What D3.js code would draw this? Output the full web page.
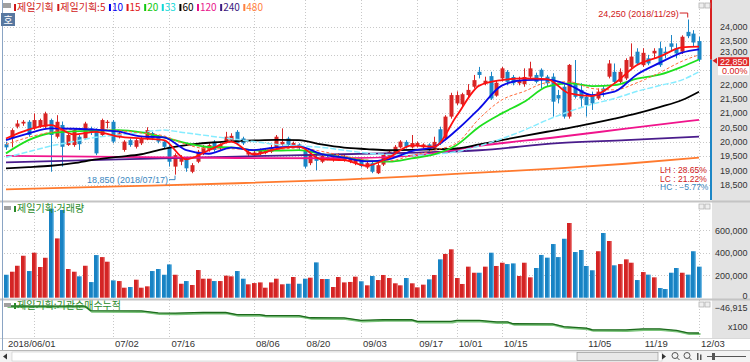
<!DOCTYPE html>
<html><head><meta charset="utf-8">
<script src="https://cdn.jsdelivr.net/npm/d3@7/dist/d3.min.js"></script>
<style>
body{margin:0;background:#fff;}
svg{display:block;}
text{font-family:"Liberation Sans",Arial,sans-serif;}
.kr{font-family:"Noto Sans CJK KR","Noto Sans",sans-serif;}
</style></head><body>
<svg id="chart" width="750" height="362"></svg>
<script>
// ---------------- DATA ----------------
const tradingDays = [
  [6,[1,4,5,7,8,11,12,14,15,18,19,20,21,22,25,26,27,28,29]],
  [7,[2,3,4,5,6,9,10,11,12,13,16,17,18,19,20,23,24,25,26,27,30,31]],
  [8,[1,2,3,6,7,8,9,10,13,14,16,17,20,21,22,23,24,27,28,29,30,31]],
  [9,[3,4,5,6,7,10,11,12,13,14,17,18,19,20,21,27,28]],
  [10,[1,2,4,5,8,10,11,12,15,16,17,18,19,22,23,24,25,26,29,30,31]],
  [11,[1,2,5,6,7,8,9,12,13,14,15,16,19,20,21,22,23,26,27,28,29,30]],
  [12,[3]]
];
const dates = tradingDays.flatMap(([m, ds]) => ds.map(d => `2018/${String(m).padStart(2,'0')}/${String(d).padStart(2,'0')}`));

const open = [19910,20110,20520,20630,20690,20460,20540,20520,20750,20170,20580,19880,19880,20170,20110,20460,20400,20230,20650,20690,
 20170,19710,20050,19820,19940,20110,20300,20170,20000,19820,19130,19300,19400,18950,19300,19600,19710,20000,19760,20000,
 20050,20340,20110,19550,19520,19580,19600,19650,19770,19900,20110,19850,19900,19710,19250,19470,19300,19470,19380,19400,
 19350,19300,19250,19350,19100,19250,18900,19200,19500,19600,19800,19990,19800,19850,19800,19900,19750,20430,20110,20870,
 21330,21300,21620,21910,22430,22030,22280,21600,22200,22430,22250,22030,22000,22260,22320,22500,22260,22260,21620,21910,
 20870,22030,21800,21560,21620,21500,21850,22260,22430,22080,22200,22600,23130,22660,22900,23070,23250,23130,23420,23250,
 23130,23820,23760,23500];
const high = [19996,20460,20750,20750,20750,20980,20800,21040,20800,20920,20700,20280,20460,20230,20690,20520,20460,20800,20750,20750,
 20340,20050,20110,20110,20170,20500,20340,20230,20050,19880,19590,19530,19470,19250,19710,19880,19940,20050,19940,20340,
 20290,20400,20170,19710,19700,19760,19760,19880,20230,20460,20170,20000,19940,19760,19590,19530,19560,19530,19500,19590,
 19530,19470,19420,19420,19300,19300,19250,19590,19710,19880,20050,20050,20230,20000,19940,19940,20170,20520,20920,21700,
 21750,21700,22000,22320,22600,22260,22430,22140,22600,22490,22320,22260,22550,22780,22400,22550,22320,22380,21800,22000,
 22700,22840,22030,21680,21740,21850,21960,22840,22720,22550,22900,23420,23250,23250,23020,23250,23480,23300,23710,23420,
 23700,24250,23880,23650];
const low = [19710,19800,20460,20550,20170,20400,20480,20460,18950,20110,19130,19850,19820,19710,20060,20230,19530,20170,20460,19940,
 20110,19650,19820,19760,19880,20050,20050,19940,19760,19130,18850,19180,18950,18900,19250,19530,19650,19650,19710,19940,
 19990,19880,19880,19500,19470,19530,19560,19600,19710,19850,19820,19800,19710,19070,19180,19000,19250,19350,19300,19350,
 19300,19250,19180,19100,19050,18900,18870,19150,19450,19550,19760,19760,19760,19800,19760,19500,19710,19880,20050,20800,
 21270,21210,21550,21850,22200,21960,21450,21560,22100,21960,21960,21960,21910,22200,22030,21850,21910,20870,21330,20800,
 20800,21500,21210,20870,21100,21450,21560,22200,22030,22030,22140,22550,22660,22600,22660,22900,22600,22900,23160,22900,
 23050,23600,23300,22780];
const close = [19800,20400,20630,20690,20230,20750,20750,20980,20230,20690,19820,20230,20400,19910,20630,20340,19590,20750,20690,20000,
 20290,20000,19880,20050,20100,20400,20110,20000,19820,19300,19530,19420,19070,19180,19650,19800,19880,19710,19900,20170,
 20200,19940,19940,19640,19620,19680,19700,19800,20170,19990,19880,19950,19780,19130,19520,19330,19500,19400,19450,19500,
 19480,19430,19380,19150,19250,18950,19180,19550,19650,19820,20000,19820,19950,19950,19900,19700,19990,19940,20870,21620,
 21620,21650,21800,22140,22320,22120,21500,22050,22550,22080,22030,22150,22250,22550,22080,22260,22030,21390,21500,20870,
 22670,21560,21500,21270,21330,21740,21740,22720,22080,22430,22840,22960,22720,23090,22720,23160,22660,23070,23300,23070,
 23650,23670,23450,22850];
const volume = [204,231,284,373,237,400,273,355,791,527,780,255,231,190,284,139,379,361,320,154,
 148,89,95,160,89,101,237,255,204,296,204,124,148,113,246,169,169,148,148,196,
 190,237,169,119,130,136,89,136,169,119,124,184,124,169,178,314,166,166,95,184,
 136,140,187,146,110,193,157,202,175,128,110,175,128,92,116,163,202,341,389,430,
 175,122,276,222,222,276,400,282,311,299,305,193,311,181,264,380,356,477,361,524,
 664,406,424,282,244,413,575,504,288,299,341,311,157,228,205,181,86,77,222,264,
 222,205,413,276].map(v => v * 1000);

const maDays = [0,4,8,12,16,20,24,28,32,36,40,44,48,52,56,60,64,68,72,76,80,84,88,92,96,100,104,108,112,116,120,123];
const ma5  = [20110,20420,20576,20250,20340,20170,20112,20054,19380,19700,19996,19555,19740,19822,19380,19357,19160,19450,19868,19822,20900,21950,22143,22201,22178,21679,21586,22027,22665,22956,23281,23304];
const ma10 = [20054,20286,20460,20448,20414,20344,20182,20147,19706,19578,19790,19706,19798,19822,19566,19439,19311,19392,19671,19822,20402,21150,21950,22143,22155,21969,21620,21737,22340,22740,23100,23213];
const ma15 = [19900,20150,20330,20420,20420,20380,20300,20200,19900,19750,19750,19720,19730,19780,19660,19500,19360,19330,19520,19700,19950,20800,21450,21750,22050,22080,21850,21800,22050,22400,22800,23020];
const ma20 = [19590,20050,20300,20357,20380,20402,20320,20147,19950,19810,19800,19700,19690,19706,19566,19450,19334,19300,19415,19555,19880,20518,20982,21388,21911,22027,21934,21969,22189,22329,22607,22860];
const ma33 = [19450,19650,19850,20000,20150,20230,20320,20400,20300,20200,20100,20000,19900,19850,19800,19700,19600,19550,19520,19560,19650,19850,20100,20400,20750,21050,21300,21500,21750,21950,22150,22430];
const ma60 = [19070,19110,19160,19250,19380,19470,19560,19750,19880,19960,20010,20040,20060,20050,19900,19790,19740,19700,19710,19730,19760,19900,20053,20200,20343,20480,20634,20800,20982,21200,21447,21737];
const longDays = [0,20,41,60,73,84,98,110,123];
const ma120 = [19500,19470,19430,19420,19520,19850,20160,20450,20760];
const ma240 = [19280,19380,19480,19560,19620,19700,19950,20050,20170];
const ma480 = [18340,18440,18550,18680,18800,18920,19070,19230,19440];

// institutional net buying, cumulative (x100 shares)
const instDays = [0,14,15,24,27,30,35,39,41,45,46,52,54,60,63,67,72,73,79,80,84,87,89,90,97,99,103,104,110,113,116,119,121,123];
const instCum  = [-46915,-47200,-53900,-54100,-57400,-57600,-56500,-56700,-59800,-60000,-61200,-61400,-64600,-64800,-68400,-67500,-67600,-70000,-70100,-68400,-68500,-70800,-70900,-73600,-73800,-78000,-80300,-82600,-82800,-81200,-81300,-83700,-87400,-87500];

const priceTicks = [18500,19000,19500,20000,20500,21000,21500,22000,23000,23500,24000];
const volTicks = [0,200000,400000,600000];
const xLabelDates = ["2018/06/01","2018/07/02","2018/07/16","2018/08/06","2018/08/20","2018/09/03","2018/09/17","2018/10/01","2018/10/15","2018/11/05","2018/11/19","2018/12/03"];
const xGridDates = ["2018/06/11","2018/07/02","2018/07/16","2018/08/06","2018/08/20","2018/09/03","2018/09/17","2018/10/01","2018/10/15","2018/11/05","2018/11/19","2018/12/03"];
const legendItems = [["제일기획","#d01818"],["제일기획:5","#d01818"],["10","#0000ee"],["15","#e01818"],["20","#10c810"],["33","#10d8d8"],["60","#000000"],["120","#e8148c"],["240","#3c1a82"],["480","#ff8040"]];
const lastPrice = 22850, hiVal = 24250, hiDate = "2018/11/29", loVal = 18850, loDate = "2018/07/17";

// ---------------- CHART ----------------
const svg = d3.select("#chart");
const defs = svg.append("defs");
const UP = "#d82424", DN = "#1b86c6";
function grad(id, c1, c2){
  const g = defs.append("linearGradient").attr("id", id).attr("x1","0%").attr("x2","100%");
  g.append("stop").attr("offset","0%").attr("stop-color",c1);
  g.append("stop").attr("offset","60%").attr("stop-color",c1);
  g.append("stop").attr("offset","100%").attr("stop-color",c2);
}
grad("gUp","#d42424","#f39a9a"); grad("gDn","#1883c4","#8ecbee");
function clip(id,x,y,w,h){ defs.append("clipPath").attr("id",id).append("rect").attr("x",x).attr("y",y).attr("width",w).attr("height",h); }
clip("cP",4,0,707,200); clip("cV",4,203,707,96); clip("cI",4,301,707,37);

const x = d3.scalePoint().domain(dates).range([6, 699]);
const yP = d3.scaleLinear().domain([18500, 24000]).range([184.7, 26.7]);
const yV = d3.scaleLinear().domain([0, 600000]).range([297.7, 230.2]);
const yI = d3.scaleLinear().domain([-87500, -46915]).range([333, 306]);

svg.append("rect").attr("width",750).attr("height",362).attr("fill","#fff");
svg.append("rect").attr("x",712).attr("y",0).attr("width",38).attr("height",338).attr("fill","#e3e3e3");

// grids
const grid = svg.append("g").attr("stroke","#c8c8c8").attr("stroke-dasharray","1,2").attr("stroke-width",1);
grid.selectAll(".v").data(xGridDates).join("line")
  .attr("x1",d=>Math.round(x(d))+0.5).attr("x2",d=>Math.round(x(d))+0.5).attr("y1",0).attr("y2",337);
grid.selectAll(".hp").data([...priceTicks, 22500]).join("line")
  .attr("x1",4).attr("x2",711).attr("y1",d=>Math.round(yP(d))+0.5).attr("y2",d=>Math.round(yP(d))+0.5);
grid.selectAll(".hv").data(volTicks.slice(1)).join("line")
  .attr("x1",4).attr("x2",711).attr("y1",d=>Math.round(yV(d))+0.5).attr("y2",d=>Math.round(yV(d))+0.5);

// pane separators
svg.append("line").attr("x1",0).attr("x2",750).attr("y1",201.5).attr("y2",201.5).attr("stroke","#c4c4c4").attr("stroke-width",2);
svg.append("line").attr("x1",0).attr("x2",750).attr("y1",299.5).attr("y2",299.5).attr("stroke","#c4c4c4").attr("stroke-width",2);
svg.append("line").attr("x1",0).attr("x2",750).attr("y1",338.5).attr("y2",338.5).attr("stroke","#d8d8d8").attr("stroke-width",1);
svg.append("line").attr("x1",2.5).attr("x2",2.5).attr("y1",0).attr("y2",350).attr("stroke","#8aa4c4").attr("stroke-width",1);

// candles
const candles = dates.map((d,i)=>({d, o:open[i], h:high[i], l:low[i], c:close[i], v:volume[i]}));
const cg = svg.append("g").attr("clip-path","url(#cP)");
cg.selectAll("line.w").data(candles).join("line")
  .attr("x1",d=>Math.round(x(d.d))+0.5).attr("x2",d=>Math.round(x(d.d))+0.5)
  .attr("y1",d=>yP(d.h)).attr("y2",d=>yP(d.l))
  .attr("stroke",d=>d.c>=d.o?UP:DN).attr("stroke-width",1);
cg.selectAll("rect.b").data(candles).join("rect")
  .attr("x",d=>Math.round(x(d.d))-1.5).attr("width",4)
  .attr("y",d=>yP(Math.max(d.o,d.c))).attr("height",d=>Math.max(1,yP(Math.min(d.o,d.c))-yP(Math.max(d.o,d.c))))
  .attr("fill",d=>d.c>=d.o?UP:DN);

// moving averages
function maLine(days, vals, color, w, dash){
  const pts = days.map((di,k)=>[dates[di], vals[k]]);
  const ln = d3.line().x(p=>x(p[0])).y(p=>yP(p[1])).curve(d3.curveMonotoneX);
  cg.append("path").attr("d",ln(pts)).attr("fill","none").attr("stroke",color).attr("stroke-width",w)
    .attr("stroke-dasharray",dash||null).attr("stroke-linejoin","round");
}
maLine(longDays, ma480, "#ff7a2e", 1.8);
maLine(longDays, ma240, "#4a1c8c", 1.8);
maLine(longDays, ma120, "#f0148c", 1.8);
maLine(maDays, ma60, "#000000", 1.8);
maLine(maDays, ma33, "#86ecff", 1.5, "6,2");
maLine(maDays, ma20, "#1ee01e", 1.8);
maLine(maDays, ma15, "#ff6a3a", 1, "3,2");
maLine(maDays, ma10, "#0a0ae6", 1.8);
maLine(maDays, ma5, "#ff1010", 1.8);

// high / low annotations
const ann = svg.append("g").attr("font-size","9px");
const hx = x(hiDate), hy = yP(hiVal);
ann.append("text").attr("x",hx-9).attr("y",hy-3).attr("text-anchor","end").attr("fill","#d02020")
  .text(`${d3.format(",")(hiVal)} (${hiDate})`);
ann.append("polyline").attr("points",`${hx-8},${hy-6.5} ${hx},${hy-6.5} ${hx},${hy-2}`).attr("fill","none").attr("stroke","#d02020");
const lx = x(loDate), ly = yP(loVal);
ann.append("text").attr("x",lx-7).attr("y",ly+8).attr("text-anchor","end").attr("fill","#3a86c0")
  .text(`${d3.format(",")(loVal)} (${loDate})`);
ann.append("polyline").attr("points",`${lx-6},${ly+5} ${lx},${ly+5} ${lx},${ly+1}`).attr("fill","none").attr("stroke","#3a86c0");

// LH / LC / HC
const pct = v => d3.format(".2f")(v) + "%";
const stats = [["LH : " + pct((hiVal/loVal-1)*100), "#d02020"], ["LC : " + pct((lastPrice/loVal-1)*100), "#d02020"], ["HC : " + pct((lastPrice/hiVal-1)*100), "#3a86c0"]];
svg.append("g").selectAll("text").data(stats).join("text")
  .attr("x",660).attr("y",(d,i)=>173+i*8.5).attr("font-size","8.5px").attr("fill",d=>d[1]).text(d=>d[0]);

// volume
const vg = svg.append("g").attr("clip-path","url(#cV)");
vg.selectAll("rect").data(candles).join("rect")
  .attr("x",d=>Math.round(x(d.d))-2).attr("width",5)
  .attr("y",d=>yV(d.v)).attr("height",d=>yV(0)-yV(d.v))
  .attr("fill",d=>d.c>=d.o?"url(#gUp)":"url(#gDn)");

// institutional cumulative
const ig = svg.append("g").attr("clip-path","url(#cI)");
const iPts = instDays.map((di,k)=>[dates[di], instCum[k]]);
const iLine = d3.line().x(p=>x(p[0])).y(p=>yI(p[1]));
ig.append("path").attr("d",iLine(iPts)).attr("fill","none").attr("stroke","#7cc47c").attr("stroke-width",2.2).attr("transform","translate(1.5,1)");
ig.append("path").attr("d",iLine(iPts)).attr("fill","none").attr("stroke","#1c6a1c").attr("stroke-width",1.3);

// right axes
const axP = svg.append("g").attr("transform","translate(712,0)")
  .call(d3.axisRight(yP).tickValues(priceTicks).tickSize(0).tickFormat(d3.format(",")));
axP.select(".domain").remove();
axP.selectAll("text").attr("x",35.5).attr("text-anchor","end").attr("font-size","9px").attr("fill","#333").attr("font-family","Liberation Sans, Arial, sans-serif")
  .attr("dy", d => d === 23000 ? "-0.1em" : "0.32em");
const axV = svg.append("g").attr("transform","translate(712,0)")
  .call(d3.axisRight(yV).tickValues(volTicks).tickSize(0).tickFormat(d3.format(",")));
axV.select(".domain").remove();
axV.selectAll("text").attr("x",35.5).attr("text-anchor","end").attr("font-size","9px").attr("fill","#333").attr("font-family","Liberation Sans, Arial, sans-serif")
  .attr("dy", d => d === 0 ? "0.1em" : "0.32em");
svg.append("text").attr("x",747.5).attr("y",311).attr("text-anchor","end").attr("font-size","9px").attr("fill","#333").text(d3.format(",")(instCum[0]));
svg.append("text").attr("x",747.5).attr("y",330).attr("text-anchor","end").attr("font-size","9px").attr("fill","#333").text("x100");

// right border price bar (red above last price, blue below)
svg.append("line").attr("x1",711).attr("x2",711).attr("y1",0).attr("y2",yP(lastPrice)).attr("stroke","#d82020").attr("stroke-width",2);
svg.append("line").attr("x1",711).attr("x2",711).attr("y1",yP(lastPrice)).attr("y2",200).attr("stroke","#1b86c6").attr("stroke-width",2);
const lp = yP(lastPrice);
svg.append("path").attr("d",`M712.5,${lp+1} L717,${lp-2} L717,${lp+4} Z`).attr("fill","#d82020");
svg.append("rect").attr("x",718).attr("y",lp-2.5).attr("width",31).attr("height",9).attr("fill","#e02a2a");
svg.append("text").attr("x",747.5).attr("y",lp+5.2).attr("text-anchor","end").attr("font-size","9px").attr("fill","#fff").text(d3.format(",")(lastPrice));
svg.append("rect").attr("x",718).attr("y",lp+6.5).attr("width",31).attr("height",9).attr("fill","#fff");
svg.append("text").attr("x",747.5).attr("y",lp+14.2).attr("text-anchor","end").attr("font-size","9px").attr("fill","#d82020").text("0.00%");

// x axis labels
svg.append("g").selectAll("text").data(xLabelDates).join("text")
  .attr("x",d=>x(d)+2).attr("y",347).attr("font-size","9.5px").attr("fill","#333")
  .text((d,i)=> i===0 ? d : d.slice(5));

// legend
const lg = svg.append("g");
lg.append("rect").attr("x",3).attr("y",3).attr("width",8).attr("height",5).attr("fill","#a0a0a0");
let lxp = 14;
legendItems.forEach(([t,c])=>{
  lg.append("rect").attr("x",lxp).attr("y",4).attr("width",2).attr("height",7).attr("fill",c);
  const tt = lg.append("text").attr("class","kr").attr("x",lxp+3).attr("y",11).attr("font-size","10px").attr("fill",c).text(t);
  lxp += 3 + tt.node().getComputedTextLength() + 3.5;
});
svg.append("rect").attr("x",1).attr("y",13).attr("width",14).attr("height",13).attr("fill","#5878a0");
svg.append("text").attr("class","kr").attr("x",8).attr("y",23.5).attr("text-anchor","middle").attr("font-size","10px").attr("fill","#fff").text("호");

// pane labels
function paneLabel(y, t){
  svg.append("rect").attr("x",4).attr("y",y-6).attr("width",7).attr("height",4).attr("fill","#a0a0a0");
  svg.append("rect").attr("x",14).attr("y",y-6).attr("width",2).attr("height",6).attr("fill","#2a8a2a");
  svg.append("text").attr("class","kr").attr("x",17).attr("y",y).attr("font-size","10px").attr("fill","#2a8a2a").text(t);
}
paneLabel(212, "제일기획:거래량");
paneLabel(309, "제일기획:기관순매수누적");

// small pane buttons
[3,204,302].forEach(yy=>{
  [699,705].forEach(xx=>{
    svg.append("rect").attr("x",xx).attr("y",yy).attr("width",5).attr("height",5).attr("fill","#eee").attr("stroke","#aaa").attr("stroke-width",0.7);
  });
});

// scrollbar
const sb = svg.append("g");
sb.append("rect").attr("x",0).attr("y",350).attr("width",750).attr("height",12).attr("fill","#f3f3f3");
sb.append("line").attr("x1",0).attr("x2",750).attr("y1",350.5).attr("y2",350.5).attr("stroke","#b8b8b8");
sb.append("rect").attr("x",12).attr("y",352).attr("width",650).attr("height",9).attr("fill","#fff").attr("stroke","#c8c8c8").attr("stroke-width",0.6);
sb.append("path").attr("d","M3,356.5 L7,353.5 L7,359.5 Z").attr("fill","#333");
sb.append("rect").attr("x",577).attr("y",352.5).attr("width",81).attr("height",8).attr("fill","#e8e8e8").attr("stroke","#999").attr("stroke-width",0.7);
sb.append("path").attr("d","M662,353.5 L666,356.5 L662,359.5 Z").attr("fill","#333");
[675,687].forEach(cx=>{
  sb.append("circle").attr("cx",cx).attr("cy",355.5).attr("r",3).attr("fill","none").attr("stroke","#555");
  sb.append("line").attr("x1",cx+2).attr("x2",cx+4.5).attr("y1",357.5).attr("y2",360).attr("stroke","#555");
});
sb.append("rect").attr("x",697).attr("y",353).attr("width",1.5).attr("height",7).attr("fill","#555");
sb.append("rect").attr("x",700).attr("y",354.5).attr("width",1.5).attr("height",5.5).attr("fill","#555");
sb.append("line").attr("x1",707).attr("x2",746).attr("y1",356.5).attr("y2",356.5).attr("stroke","#555");
sb.append("rect").attr("x",712).attr("y",353).attr("width",3).attr("height",7).attr("fill","#555");
</script>
</body></html>
